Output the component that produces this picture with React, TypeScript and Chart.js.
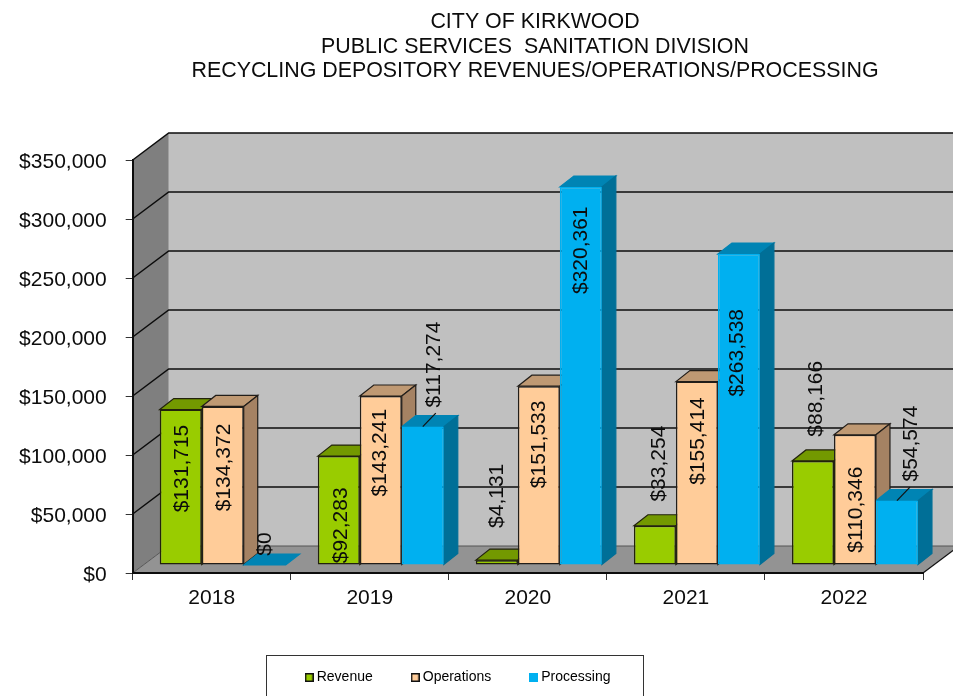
import React, { useEffect, useRef } from "react";
import { Chart, registerables } from "chart.js";

Chart.register(...registerables);

const categories = ["2018", "2019", "2020", "2021", "2022"];
const revenue = [131715, 92283, 4131, 33254, 88166];
const operations = [134372, 143241, 151533, 155414, 110346];
const processing = [0, 117274, 320361, 263538, 54574];
const titleLines = [
  "CITY OF KIRKWOOD",
  "PUBLIC SERVICES  SANITATION DIVISION",
  "RECYCLING DEPOSITORY REVENUES/OPERATIONS/PROCESSING",
];

const FONT = "'Liberation Sans', Arial, sans-serif";
const WALL = { dx: 36, dy: -27 };
const BAR_SHIFT = { dx: 11, dy: -8 };
const BAR_DEPTH = { dx: 14, dy: -11 };

const seriesStyle = [
  { fill: "#99cc00", top: "#739900", side: "#5c7a00", line: "#22220c", swatchLine: "#111111" },
  { fill: "#ffcc99", top: "#bf9973", side: "#a58263", line: "#221e1a", swatchLine: "#111111" },
  { fill: "#00b0f0", top: "#0084b4", side: "#006f97", line: "#00b0f0", swatchLine: null },
];

// Hand-placed data label nudges from each bar's centre: [series][category] = [dx, dy]
const labelNudge = [
  [[1, -18.5], [2, 15], [0, -66.5], [4.3, -81.5], [3.3, -114]],
  [[1.3, -18], [-1, -27.5], [0, -31], [1.3, -32], [1.3, 10]],
  [[0, -21], [11, -131], [0, -125.5], [-2, -56.5], [14, -89]],
];
const leaderLines = [[2, 1], [2, 4]];
const LEADER = { dx: 13, dy: -13.5 };

const money = (v: number) => "$" + v.toLocaleString("en-US");

function swatch(i: number) {
  const c = document.createElement("canvas");
  c.width = 9;
  c.height = 9;
  const g = c.getContext("2d")!;
  const s = seriesStyle[i];
  g.fillStyle = s.fill;
  g.fillRect(0, 0, 9, 9);
  if (s.swatchLine) {
    g.strokeStyle = s.swatchLine;
    g.lineWidth = 1.5;
    g.strokeRect(0.75, 0.75, 7.5, 7.5);
  }
  return c;
}

function poly(ctx: CanvasRenderingContext2D, pts: number[][], fill: string, stroke?: string) {
  ctx.beginPath();
  pts.forEach((p, i) => (i ? ctx.lineTo(p[0], p[1]) : ctx.moveTo(p[0], p[1])));
  ctx.closePath();
  ctx.fillStyle = fill;
  ctx.fill();
  if (stroke) {
    ctx.strokeStyle = stroke;
    ctx.lineWidth = 1.2;
    ctx.stroke();
  }
}

const chart3d = {
  id: "chart3d",
  afterLayout(chart: any) {
    chart.titleBlock.left = 117;
    chart.titleBlock.right = 953;
    const lg = chart.legend;
    lg.left = 266.7;
    lg.right = 953;
    lg.top = 628.5;
    lg.bottom = 696;
  },
  beforeDraw(chart: any) {
    const ctx = chart.ctx as CanvasRenderingContext2D;
    const { left, right, top, bottom } = chart.chartArea;
    const y = chart.scales.y;
    ctx.save();
    ctx.fillStyle = "#ffffff";
    ctx.fillRect(0, 0, chart.width, chart.height);
    const bx = left + WALL.dx;
    const by = bottom + WALL.dy;
    const tb = top + WALL.dy;
    // back wall, side wall, floor
    poly(ctx, [[bx, tb], [right + WALL.dx, tb], [right + WALL.dx, by], [bx, by]], "#c0c0c0");
    poly(ctx, [[left, top], [bx, tb], [bx, by], [left, bottom]], "#7f7f7f");
    poly(ctx, [[left, bottom], [bx, by], [right + WALL.dx, by], [right, bottom]], "#939393");
    // gridlines on both walls
    ctx.strokeStyle = "#0c0c0c";
    ctx.lineWidth = 1.5;
    y.ticks.forEach((t: any) => {
      const py = y.getPixelForValue(t.value);
      if (t.value === 0) return;
      const backY = Math.round(py + WALL.dy);
      ctx.beginPath();
      ctx.moveTo(left, py);
      ctx.lineTo(bx, backY);
      ctx.lineTo(right + WALL.dx, backY);
      ctx.stroke();
    });
    // floor edges
    ctx.strokeStyle = "#555555";
    ctx.lineWidth = 1;
    ctx.beginPath();
    ctx.moveTo(left, bottom);
    ctx.lineTo(bx, by);
    ctx.lineTo(right + WALL.dx, by);
    ctx.stroke();
    ctx.strokeStyle = "#111111";
    ctx.lineWidth = 1.3;
    ctx.beginPath();
    ctx.moveTo(right, bottom);
    ctx.lineTo(right + WALL.dx, by);
    ctx.stroke();
    // legend frame
    ctx.strokeStyle = "#333333";
    ctx.lineWidth = 1;
    ctx.strokeRect(266.5, 655.5, 377, 60);
    ctx.restore();
  },
  beforeDatasetsDraw(chart: any) {
    const ctx = chart.ctx as CanvasRenderingContext2D;
    ctx.save();
    ctx.translate(BAR_SHIFT.dx, BAR_SHIFT.dy);
    chart.data.datasets.forEach((_: any, di: number) => {
      const s = seriesStyle[di];
      chart.getDatasetMeta(di).data.forEach((el: any) => {
        const { x, y, base, width } = el.getProps(["x", "y", "base", "width"], true);
        const l = x - width / 2;
        const r = x + width / 2;
        const { dx, dy } = BAR_DEPTH;
        poly(ctx, [[l, y], [l + dx, y + dy], [r + dx, y + dy], [r, y]], s.top, s.line === s.fill ? s.top : s.line);
        if (base - y > 0) {
          poly(ctx, [[r, y], [r + dx, y + dy], [r + dx, base + dy], [r, base]], s.side, s.line === s.fill ? s.side : s.line);
        }
      });
    });
  },
  afterDatasetsDraw(chart: any) {
    const ctx = chart.ctx as CanvasRenderingContext2D;
    ctx.restore();
    ctx.save();
    ctx.fillStyle = "#0c0c0c";
    ctx.font = `21px ${FONT}`;
    ctx.textAlign = "center";
    ctx.textBaseline = "middle";
    chart.data.datasets.forEach((ds: any, di: number) => {
      chart.getDatasetMeta(di).data.forEach((el: any, ci: number) => {
        const { x, y, base } = el.getProps(["x", "y", "base"], true);
        const [nx, ny] = labelNudge[di][ci];
        ctx.save();
        ctx.translate(x + BAR_SHIFT.dx + nx, (y + base) / 2 + BAR_SHIFT.dy + ny);
        ctx.rotate(-Math.PI / 2);
        ctx.fillText(money(ds.data[ci]), 0, 0);
        ctx.restore();
      });
    });
    ctx.strokeStyle = "#111111";
    ctx.lineWidth = 1.2;
    leaderLines.forEach(([di, ci]) => {
      const el = chart.getDatasetMeta(di).data[ci];
      const { x, y } = el.getProps(["x", "y"], true);
      ctx.beginPath();
      ctx.moveTo(x + BAR_SHIFT.dx, y + BAR_SHIFT.dy);
      ctx.lineTo(x + BAR_SHIFT.dx + LEADER.dx, y + BAR_SHIFT.dy + LEADER.dy);
      ctx.stroke();
    });
    ctx.restore();
  },
};

export default function App() {
  const ref = useRef<HTMLCanvasElement>(null);
  useEffect(() => {
    document.body.style.margin = "0";
    const mk = (label: string, data: number[], i: number) => ({
      label,
      data,
      backgroundColor: seriesStyle[i].fill,
      borderColor: seriesStyle[i].line,
      borderWidth: 1.5,
      borderSkipped: false,
      clip: false,
    });
    const chart = new Chart(ref.current!, {
      type: "bar",
      data: {
        labels: categories,
        datasets: [mk("Revenue", revenue, 0), mk("Operations", operations, 1), mk("Processing", processing, 2)],
      },
      plugins: [chart3d],
      options: {
        responsive: false,
        animation: false,
        layout: { padding: { left: 0, right: 30, top: 0, bottom: 0 } },
        datasets: { bar: { barPercentage: 1, categoryPercentage: 0.797 } },
        plugins: {
          tooltip: { enabled: false },
          title: {
            display: true,
            text: titleLines,
            color: "#0c0c0c",
            font: { family: FONT, size: 21.4, weight: "normal", lineHeight: 1.145 },
            padding: { top: 10, bottom: 76.5 },
          },
          legend: {
            display: true,
            position: "bottom",
            align: "start",
            labels: {
              usePointStyle: true,
              boxWidth: 1,
              boxHeight: 9,
              padding: 42,
              color: "#111111",
              font: { family: FONT, size: 14 },
              generateLabels: (c: any) =>
                c.data.datasets.map((d: any, i: number) => ({
                  text: d.label,
                  fillStyle: seriesStyle[i].fill,
                  strokeStyle: seriesStyle[i].fill,
                  lineWidth: 0,
                  pointStyle: swatch(i),
                  datasetIndex: i,
                  hidden: false,
                })),
            },
          },
        },
        scales: {
          x: {
            afterFit: (s: any) => {
              s.height = 696 - 573 - s.chart.legend.height;
            },
            border: { display: true, color: "#0c0c0c", width: 2 },
            grid: { drawOnChartArea: false, drawTicks: true, tickLength: 7, color: "#333333", offset: true },
            ticks: { color: "#0c0c0c", font: { family: FONT, size: 21 }, padding: 6, maxRotation: 0 },
          },
          y: {
            min: 0,
            max: 350000,
            afterFit: (s: any) => {
              s.width = 132.7;
            },
            border: { display: true, color: "#0c0c0c", width: 2 },
            grid: { drawOnChartArea: false, drawTicks: true, tickLength: 7, color: "#333333" },
            ticks: {
              stepSize: 50000,
              color: "#0c0c0c",
              font: { family: FONT, size: 21 },
              padding: 19,
              labelOffset: 2.5,
              callback: (v: any) => money(Number(v)),
            },
          },
        },
      },
    } as any);
    return () => chart.destroy();
  }, []);
  return (
    <div style={{ position: "absolute", left: 0, top: 0, width: 953, height: 696, overflow: "hidden" }}>
      <canvas ref={ref} width={953} height={696} style={{ display: "block" }} />
    </div>
  );
}
